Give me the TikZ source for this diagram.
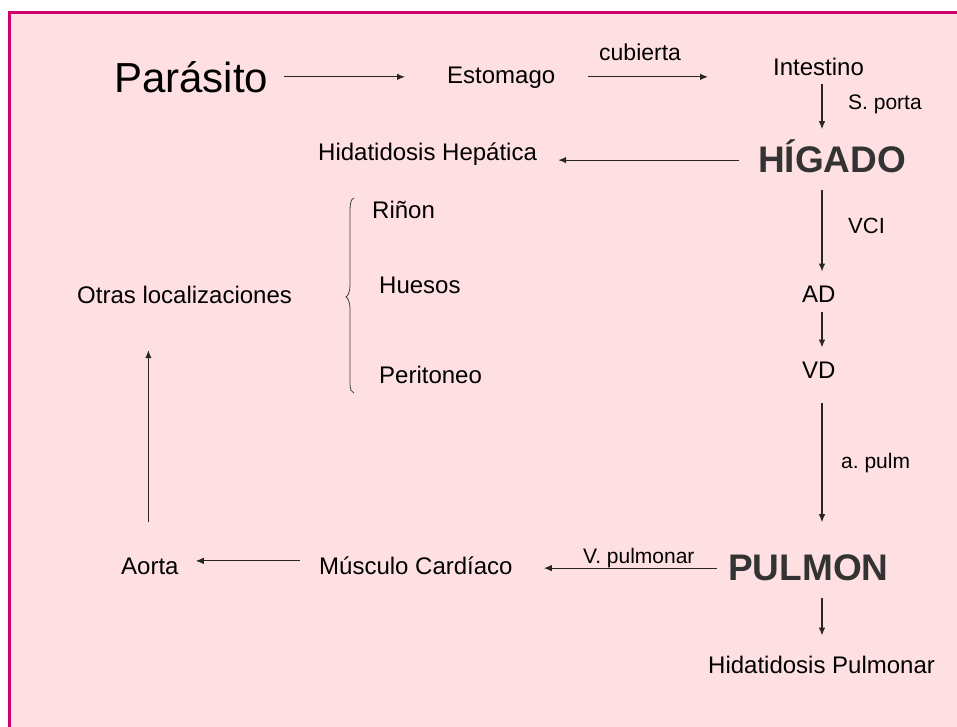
\documentclass[tikz,border=0pt]{standalone}
\usepackage{fontspec}
\setmainfont{Liberation Sans}
\usetikzlibrary{arrows.meta}
\definecolor{pinkbg}{HTML}{FFE0E2}
\definecolor{bordercol}{HTML}{D0006A}
\definecolor{bigtext}{HTML}{333333}
\frenchspacing
\begin{document}
\begin{tikzpicture}[x=1pt,y=-1pt,
  lbl/.style={anchor=base west, inner sep=0pt, text height=17.3pt, text depth=5pt, font=\fontsize{24}{28}\selectfont},
  small/.style={lbl, text height=15pt, text depth=4.4pt, font=\fontsize{21}{25}\selectfont},
  organ/.style={lbl, text height=26.6pt, text depth=7.8pt, font=\fontsize{37}{42}\selectfont\bfseries, text=bigtext},
  title/.style={lbl, text height=30pt, text depth=8.8pt, font=\fontsize{42}{48}\selectfont},
  arr/.style={-{Latex[length=8pt,width=6.5pt]}, line width=1.1pt, draw=black!85}]
\useasboundingbox (0,0) rectangle (957,726);
\fill[white] (0,0) rectangle (957,726);
\begin{scope}
\clip (0,0) rectangle (957,726);
\filldraw[fill=pinkbg, draw=bordercol, line width=3pt] (9.5,12) rectangle (990,760);
\end{scope}
\coordinate (col) at (822,0);

\node[title] (parasito) at (114,92) {Parásito};
\node[lbl] (estomago) at (447,83) {Estomago};
\node[lbl, font=\fontsize{23}{27}\selectfont] (cubierta) at (599,60) {cubierta};
\node[lbl] (intestino) at (773,75) {Intestino};
\node[small] (sporta) at (848,109) {S. porta};
\node[organ] (higado) at (758,172) {HÍGADO};
\node[lbl] (hidhep) at (318,160) {Hidatidosis Hepática};
\node[small, font=\fontsize{22}{26}\selectfont] (vci) at (848,233) {VCI};
\node[lbl] (ad) at (802,302) {AD};
\node[lbl] (vd) at (802,378) {VD};
\node[small] (apulm) at (841,468) {a. pulm};
\node[organ] (pulmon) at (728,580) {PULMON};
\node[lbl] (hidpul) at (708,673) {Hidatidosis Pulmonar};
\node[small] (vpulm) at (583,563) {V. pulmonar};
\node[lbl] (musculo) at (319,574) {Músculo Cardíaco};
\node[lbl] (aorta) at (121,574) {Aorta};
\node[lbl] (otras) at (77,303) {Otras localizaciones};
\node[lbl] (rinon) at (372,218) {Riñon};
\node[lbl] (huesos) at (379,293) {Huesos};
\node[lbl] (peritoneo) at (379,383) {Peritoneo};

% brace
\draw[line width=0.8pt, draw=black!75] (354,198) .. controls (351,199) and (350,203) .. (350,212)
  -- (350,284) .. controls (350,292) and (348,296) .. (346,297)
  .. controls (348,298) and (350,302) .. (350,310)
  -- (350,382) .. controls (350,390) and (351,392) .. (354,393);

% connectors
\draw[arr, shorten <=16pt, shorten >=42pt] (parasito.east |- estomago.west) -- (estomago.west);
\draw[arr, shorten <=33pt, shorten >=65pt] (estomago.east) -- (estomago.east -| intestino.west);
\draw[arr, shorten <=4pt, shorten >=16pt] (col |- intestino.south) -- (col |- higado.north);
\draw[arr, shorten <=19pt, shorten >=21pt] ([yshift=2.5pt]higado.west) -- ([yshift=2.5pt]higado.west -| hidhep.east);
\draw[arr, shorten <=10pt, shorten >=13pt] (col |- higado.south) -- (col |- ad.north);
\draw[arr, shorten <=5pt, shorten >=13pt] (col |- ad.south) -- (col |- vd.north);
\draw[arr, shorten <=20pt, shorten >=31pt] (col |- vd.south) -- (col |- pulmon.north);
\draw[arr, shorten <=11pt, shorten >=31pt] ([yshift=2.5pt]pulmon.west) -- ([yshift=2.5pt]pulmon.west -| musculo.east);
\draw[arr, shorten <=19pt, shorten >=17pt] ([yshift=7pt]musculo.west) -- ([yshift=7pt]musculo.west -| aorta.east);
\draw[arr, shorten <=35pt, shorten >=42pt] ([xshift=-1.5pt]aorta.north) -- ([xshift=-1.5pt]aorta.north |- otras.south);
\draw[arr, shorten <=10pt, shorten >=20pt] (col |- pulmon.south) -- (col |- hidpul.north);
\end{tikzpicture}
\end{document}
